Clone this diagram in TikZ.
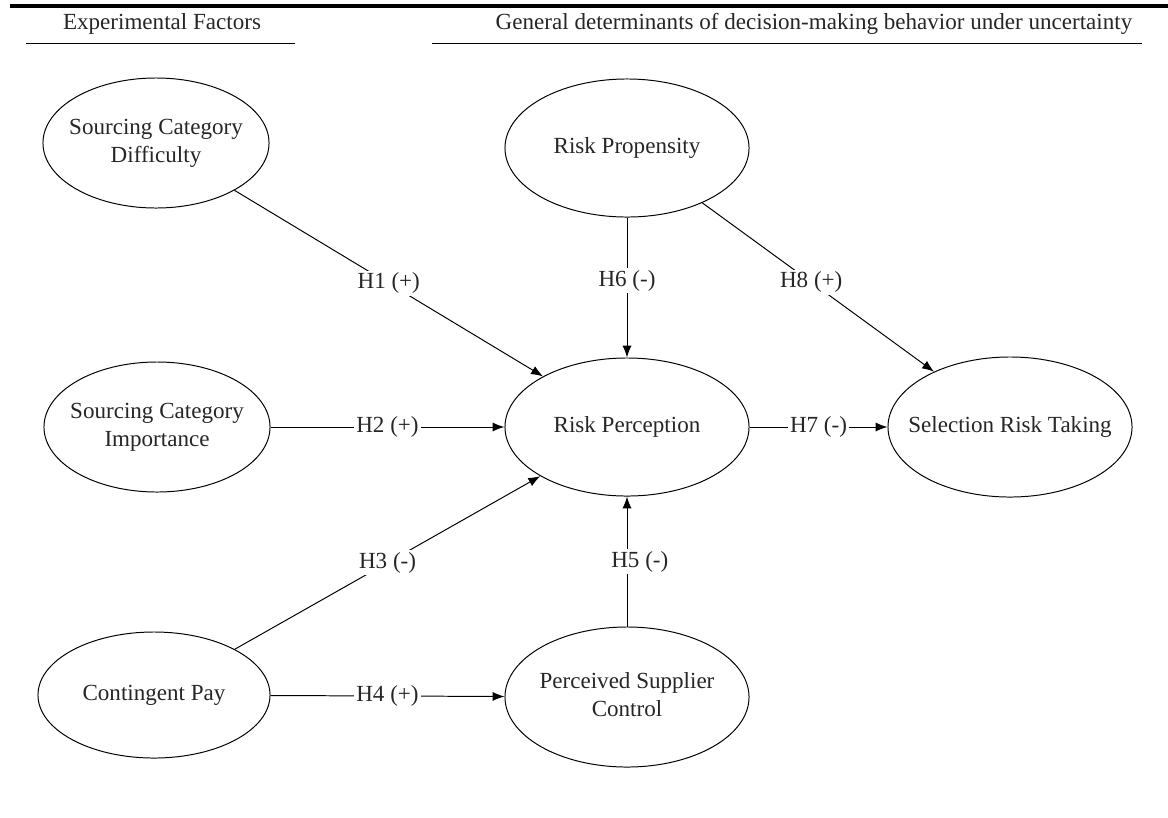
\documentclass[tikz,border=0pt]{standalone}
\usepackage{fontspec}
\setmainfont{Liberation Serif}
\usepackage{tikz}
\usetikzlibrary{shapes.geometric, arrows.meta}

\newcommand{\ctext}[1]{\makebox[0pt]{\begin{tabular}{@{}c@{}}#1\end{tabular}}}

\begin{document}
\begin{tikzpicture}[x=0.025cm, y=-0.025cm,
  font=\fontsize{16.4}{19.7}\selectfont, text=black!85,
  latent/.style={draw=black, ellipse, line width=0.7pt, inner sep=0pt, minimum width=6.1cm, minimum height=3.45cm},
  hyp/.style={draw=black, line width=0.7pt, -{Latex[length=8.5pt, width=6.5pt]}},
  hlabel/.style={fill=white, inner sep=1.5pt, midway}]
\useasboundingbox (0,0) rectangle (1168,817);

% headings
\draw[line width=2.2pt] (10,6) -- (1168,6);
\node (expf) at (162,24) {Experimental Factors};
\draw[line width=0.7pt] (26,43) -- (295,43);
\node (gendet) at (814,24) {General determinants of decision-making behavior under uncertainty};
\draw[line width=0.7pt] (432,43) -- (1142,43);

% constructs
\node[latent, minimum width=5.65cm, minimum height=3.25cm] (scd) at (156,143) {\ctext{Sourcing Category\\Difficulty}};
\node[latent, minimum width=5.65cm, minimum height=3.25cm] (sci) at (157,427) {\ctext{Sourcing Category\\Importance}};
\node[latent, minimum width=5.8cm, minimum height=3.15cm] (cpay) at (154,695) {\ctext{Contingent Pay}};
\node[latent] (rprop) at (627,148) {\ctext{Risk Propensity}};
\node[latent] (rperc) at (627,427) {\ctext{Risk Perception}};
\node[latent, minimum height=3.5cm] (psc) at (627,697) {\ctext{Perceived Supplier\\Control}};
\node[latent, minimum height=3.5cm] (srt) at (1010,427) {\ctext{Selection Risk Taking}};

% hypotheses
\draw[hyp] (scd) -- node[hlabel] {H1 (+)} (rperc);
\draw[hyp] (sci) -- node[hlabel] {H2 (+)} (rperc);
\draw[hyp] (cpay) -- node[hlabel] {H3 (-)} (rperc);
\draw[hyp] (cpay) -- node[hlabel] {H4 (+)} (psc);
\draw[hyp] (psc) -- node[hlabel, xshift=0.32cm] {H5 (-)} (rperc);
\draw[hyp] (rprop) -- node[hlabel, pos=0.45] {H6 (-)} (rperc);
\draw[hyp] (rperc) -- node[hlabel] {H7 (-)} (srt);
\draw[hyp] (rprop) -- node[hlabel, pos=0.47] {H8 (+)} (srt);
\end{tikzpicture}
\end{document}
